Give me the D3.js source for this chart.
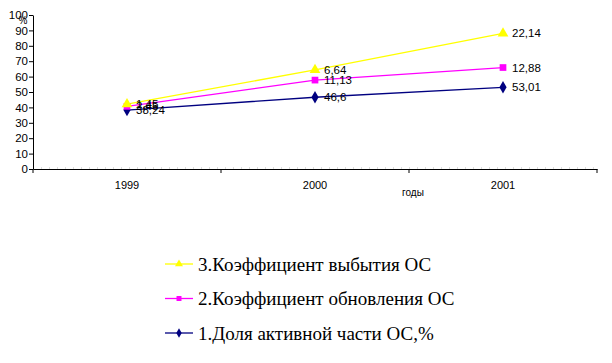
<!DOCTYPE html>
<html>
<head>
<meta charset="utf-8">
<script src="https://cdn.jsdelivr.net/npm/d3@7"></script>
<style>
  body { margin: 0; background: #fff; }
  svg { display: block; font-family: Arial, "Liberation Sans", sans-serif; }
</style>
</head>
<body>
<div id="chart"></div>
<script>
const years = ["1999", "2000", "2001"];
// values shown in the data labels (the lines are stacked)
const share = [38.24, 46.6, 53.01];      // 1.Доля активной части ОС,%
const renewal = [2.45, 11.13, 12.88];    // 2.Коэффициент обновления ОС
const retire = [1.45, 6.64, 22.14];      // 3.Коэффициент выбытия ОС
const yTicks = [0, 10, 20, 30, 40, 50, 60, 70, 80, 90, 100];

const width = 612, height = 363;
const margin = { top: 15, right: 15, bottom: 194, left: 33 };

const svg = d3.select("#chart").append("svg")
  .attr("width", width).attr("height", height);

const x = d3.scaleBand().domain(years).range([margin.left, width - margin.right]);
const y = d3.scaleLinear().domain([0, 100]).range([height - margin.bottom, margin.top]);

// stacked cumulative
const stack1 = share;
const stack2 = share.map((v, i) => v + renewal[i]);
const stack3 = stack2.map((v, i) => v + retire[i]);

const series = [
  { name: "1.Доля активной части ОС,%", color: "#000080", shape: d3.symbolDiamond, size: 45, cum: stack1, lab: share },
  { name: "2.Коэффициент обновления ОС", color: "#ff00ff", shape: d3.symbolSquare, size: 45, cum: stack2, lab: renewal },
  { name: "3.Коэффициент выбытия ОС", color: "#ffff00", shape: d3.symbolTriangle, size: 50, cum: stack3, lab: retire }
];

// faint dotted line just above x axis
svg.append("line")
  .attr("x1", margin.left).attr("x2", width - margin.right)
  .attr("y1", y(0) - 1).attr("y2", y(0) - 1)
  .attr("stroke", "#bbb").attr("stroke-dasharray", "1,7");

// y axis
const yAxis = svg.append("g")
  .attr("transform", `translate(${margin.left},0)`)
  .call(d3.axisLeft(y).tickValues(yTicks).tickSize(4).tickSizeOuter(0));
yAxis.select(".domain").attr("stroke", "#000");
yAxis.selectAll("text").attr("font-size", 11.5).attr("fill", "#000").attr("x", -5);

svg.append("text").attr("x", 23).attr("y", 24)
  .attr("font-size", 10).attr("text-anchor", "middle").text("%");

// x axis
const xAxis = svg.append("g")
  .attr("transform", `translate(0,${y(0)})`)
  .call(d3.axisBottom(x).tickSize(0).tickSizeOuter(0));
xAxis.select(".domain").attr("stroke", "#000");
xAxis.selectAll("text").attr("font-size", 11).attr("fill", "#000").attr("dy", "1.15em").attr("y", 7);
// tick marks between categories
const bounds = [x.range()[0]].concat(years.map(d => x(d) + x.bandwidth()));
svg.append("g").selectAll("line").data(bounds).join("line")
  .attr("x1", d => d).attr("x2", d => d)
  .attr("y1", y(0)).attr("y2", y(0) + 4)
  .attr("stroke", "#000");

svg.append("text").attr("x", 413).attr("y", 196)
  .attr("font-size", 10).attr("text-anchor", "middle").text("годы");

const cx = d => x(d) + x.bandwidth() / 2;

series.forEach(s => {
  svg.append("path")
    .datum(years.map((yr, i) => [cx(yr), y(s.cum[i])]))
    .attr("fill", "none").attr("stroke", s.color).attr("stroke-width", 1.3)
    .attr("d", d3.line());
});

series.forEach(s => {
  svg.append("g").selectAll("path").data(years).join("path")
    .attr("transform", (d, i) => `translate(${cx(d)},${y(s.cum[i])})`)
    .attr("d", d3.symbol(s.shape, s.size))
    .attr("fill", s.color);
  svg.append("g").selectAll("text").data(years).join("text")
    .attr("x", d => cx(d) + 9)
    .attr("y", (d, i) => y(s.cum[i]))
    .attr("dy", "0.35em")
    .attr("font-size", 11.5)
    .text((d, i) => String(s.lab[i]).replace(".", ","));
});

// legend
const legendRows = [series[2], series[1], series[0]];
const lg = svg.append("g").selectAll("g").data(legendRows).join("g")
  .attr("transform", (d, i) => `translate(165,${264 + i * 34.5})`);
lg.append("line").attr("x1", 0).attr("x2", 28)
  .attr("stroke", d => d.color).attr("stroke-width", 1.3);
lg.append("path").attr("transform", "translate(14,0)")
  .attr("d", d => d3.symbol(d.shape, d.size * 0.55)())
  .attr("fill", d => d.color);
lg.append("text").attr("x", 33).attr("dy", "0.35em")
  .attr("font-family", "'Liberation Serif', 'Times New Roman', serif")
  .attr("font-size", 19)
  .text(d => d.name);
</script>
</body>
</html>
